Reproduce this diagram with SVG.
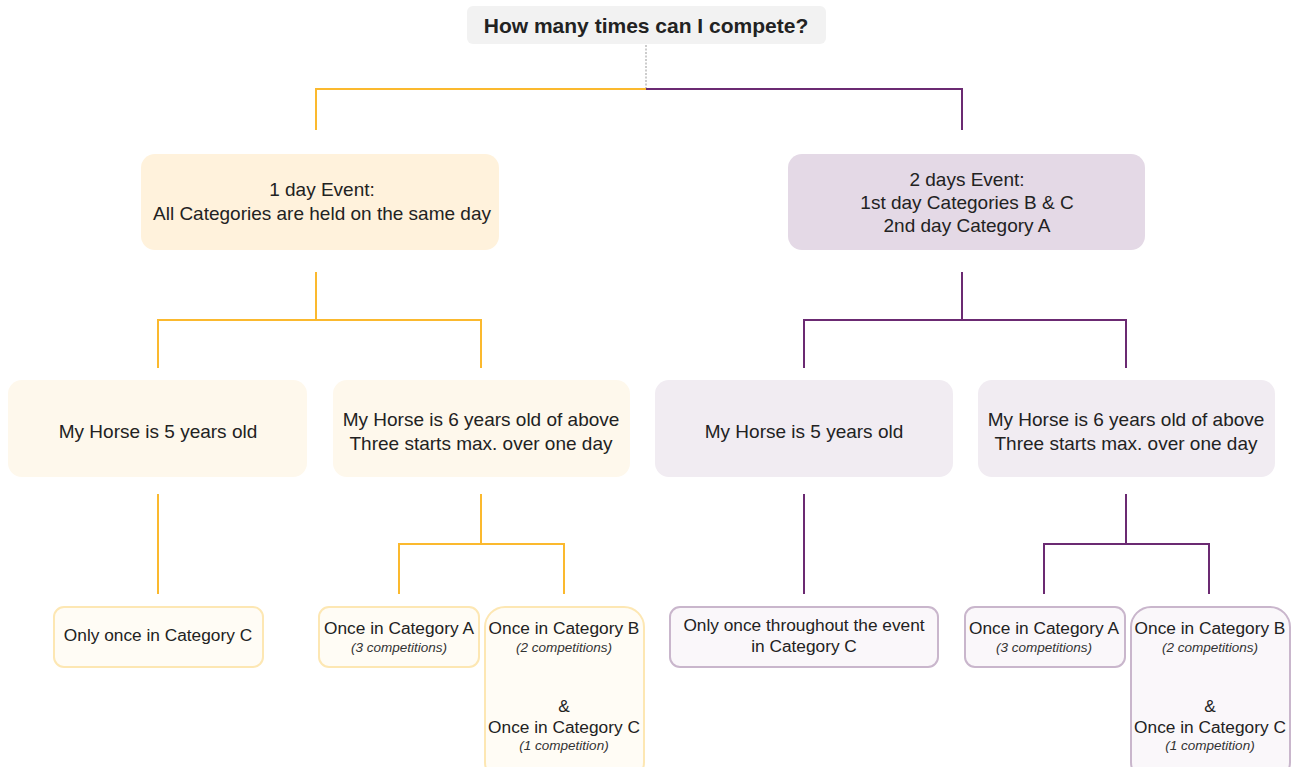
<svg xmlns="http://www.w3.org/2000/svg" width="1295" height="767" viewBox="0 0 1295 767">
<style>
text{font-family:"Liberation Sans",Arial,sans-serif;fill:#222;text-anchor:middle}
.t{font-size:21px;font-weight:bold}
.m{font-size:19px}
.s{font-size:17.3px}
.i{font-size:13.5px;font-style:italic;fill:#333}
.y{stroke:#fbb92e;stroke-width:2;fill:none}
.p{stroke:#6b2a72;stroke-width:2;fill:none}
.yl1{fill:#fff2dc}
.yl2{fill:#fef8ec}
.yl3{fill:#fffcf5;stroke:#fde7b3;stroke-width:2}
.pl1{fill:#e4d9e6}
.pl2{fill:#f1ecf2}
.pl3{fill:#faf7fa;stroke:#c9b6cc;stroke-width:2}
</style>
<rect width="1295" height="767" fill="#fff"/>
<g id="connectors">
<line x1="646" y1="45" x2="646" y2="89" stroke="#999" stroke-width="1" stroke-dasharray="2,1.5"/>
<path class="y" d="M646 89H316V130"/>
<path class="p" d="M646 89H962V130"/>
<path class="y" d="M316 272V320M158 368V320H481V368"/>
<path class="p" d="M962 272V320M804 368V320H1126V368"/>
<path class="y" d="M158 494V594"/>
<path class="y" d="M481 494V544M399 594V544H564V594"/>
<path class="p" d="M804 494V594"/>
<path class="p" d="M1126 494V544M1044 594V544H1209V594"/>
</g>
<g id="root">
<rect x="467" y="6" width="359" height="38" rx="6" fill="#f2f2f2"/>
<text class="t" x="646" y="33">How many times can I compete?</text>
</g>
<g id="oneday">
<rect class="yl1" x="141" y="154" width="358" height="96" rx="14"/>
<text class="m" x="322" y="196">1 day Event:</text>
<text class="m" x="322" y="220">All Categories are held on the same day</text>
</g>
<g id="twodays">
<rect class="pl1" x="788" y="154" width="357" height="96" rx="14"/>
<text class="m" x="967" y="186">2 days Event:</text>
<text class="m" x="967" y="209">1st day Categories B &amp; C</text>
<text class="m" x="967" y="232">2nd day Category A</text>
</g>
<g id="y5">
<rect class="yl2" x="8" y="380" width="299" height="97" rx="14"/>
<text class="m" x="158" y="438">My Horse is 5 years old</text>
</g>
<g id="y6">
<rect class="yl2" x="333" y="380" width="297" height="97" rx="14"/>
<text class="m" x="481" y="426">My Horse is 6 years old of above</text>
<text class="m" x="481" y="450">Three starts max. over one day</text>
</g>
<g id="p5">
<rect class="pl2" x="655" y="380" width="298" height="97" rx="14"/>
<text class="m" x="804" y="438">My Horse is 5 years old</text>
</g>
<g id="p6">
<rect class="pl2" x="978" y="380" width="297" height="97" rx="14"/>
<text class="m" x="1126" y="426">My Horse is 6 years old of above</text>
<text class="m" x="1126" y="450">Three starts max. over one day</text>
</g>
<g id="yleafC">
<rect class="yl3" x="54" y="607" width="209" height="60" rx="10"/>
<text class="s" x="158" y="641">Only once in Category C</text>
</g>
<g id="yleafA">
<rect class="yl3" x="319" y="607" width="160" height="60" rx="10"/>
<text class="s" x="399" y="634">Once in Category A</text>
<text class="i" x="399" y="652">(3 competitions)</text>
</g>
<g id="yleafBC">
<rect class="yl3" x="485" y="607" width="159" height="175" rx="20"/>
<text class="s" x="564" y="634">Once in Category B</text>
<text class="i" x="564" y="652">(2 competitions)</text>
<text class="s" x="564" y="712">&amp;</text>
<text class="s" x="564" y="733">Once in Category C</text>
<text class="i" x="564" y="750">(1 competition)</text>
</g>
<g id="pleafC">
<rect class="pl3" x="670" y="607" width="268" height="60" rx="10"/>
<text class="s" x="804" y="631">Only once throughout the event</text>
<text class="s" x="804" y="652">in Category C</text>
</g>
<g id="pleafA">
<rect class="pl3" x="965" y="607" width="160" height="60" rx="10"/>
<text class="s" x="1044" y="634">Once in Category A</text>
<text class="i" x="1044" y="652">(3 competitions)</text>
</g>
<g id="pleafBC">
<rect class="pl3" x="1131" y="607" width="159" height="175" rx="20"/>
<text class="s" x="1210" y="634">Once in Category B</text>
<text class="i" x="1210" y="652">(2 competitions)</text>
<text class="s" x="1210" y="712">&amp;</text>
<text class="s" x="1210" y="733">Once in Category C</text>
<text class="i" x="1210" y="750">(1 competition)</text>
</g>
</svg>
